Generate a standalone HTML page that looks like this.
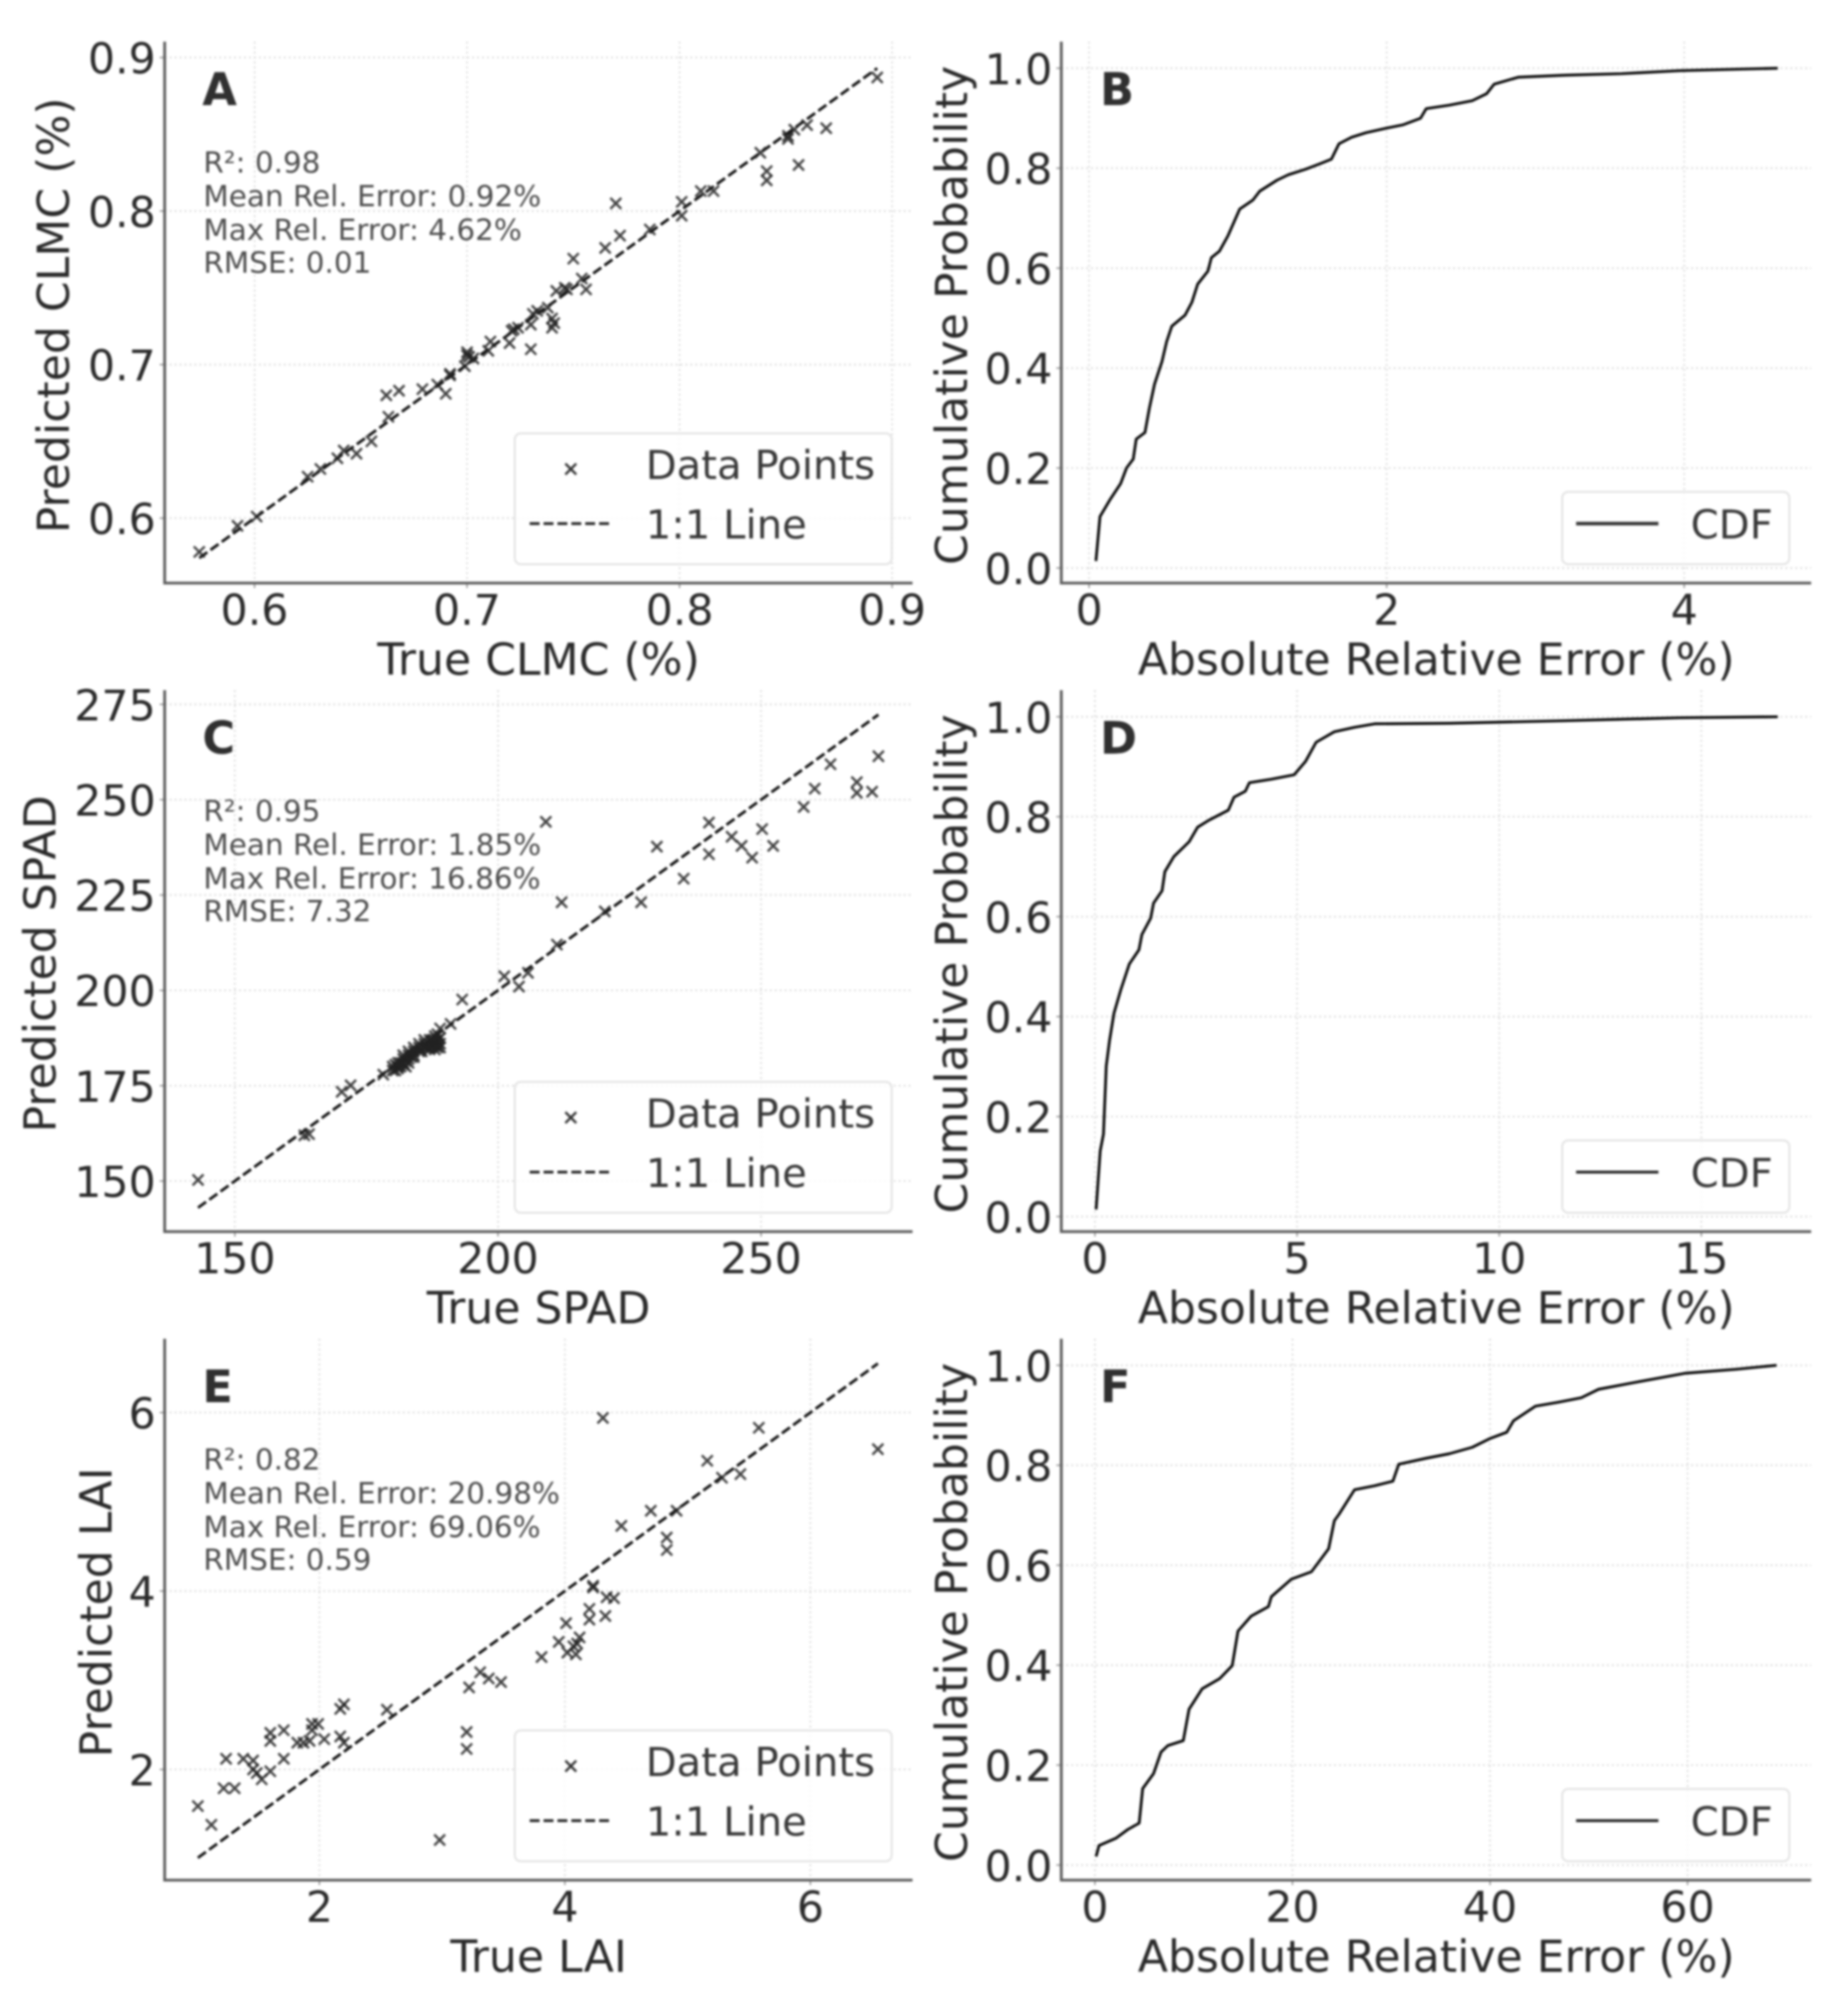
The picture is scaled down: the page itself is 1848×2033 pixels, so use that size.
<!DOCTYPE html>
<html>
<head>
<meta charset="utf-8">
<title>Predicted vs true scatter plots and error CDFs</title>
<style>
html,body{margin:0;padding:0;background:#fff;}
#chart{display:block;width:1848px;height:2033px;filter:blur(1px);font-family:"DejaVu Sans","Liberation Sans",sans-serif;}
.tick{font-size:43px;fill:#2a2a2a;}
.axt{font-size:44.5px;fill:#2a2a2a;}
.ann{font-size:29.7px;fill:#4e4e4e;}
.let{font-size:45px;font-weight:bold;fill:#303030;}
.leg{font-size:40.5px;fill:#383838;}
.box{fill:#fff;fill-opacity:.8;stroke:#e4e4e4;stroke-width:2;}
.sp{stroke:#5c5c5c;stroke-width:2.8;fill:none;}
</style>
</head>
<body>
<svg id="chart" xmlns="http://www.w3.org/2000/svg" width="1848" height="2033" viewBox="0 0 1848 2033">
<rect width="1848" height="2033" fill="#fff"/>

<g id="panel-a">
 <g id="a-axes"></g>
 <path class="sp" d="M166 42V588H920"/>
 <g id="a-marks"></g>
 <text class="let" x="204" y="106">A</text>
 <text class="ann" x="205" y="174">R²: 0.98</text>
 <text class="ann" x="205" y="208">Mean Rel. Error: 0.92%</text>
 <text class="ann" x="205" y="242">Max Rel. Error: 4.62%</text>
 <text class="ann" x="205" y="275">RMSE: 0.01</text>
 <text class="axt" x="543" y="680.500" text-anchor="middle">True CLMC (%)</text>
 <text class="axt" transform="translate(69.500,318) rotate(-90)" text-anchor="middle">Predicted CLMC (%)</text>
 <g>
  <rect class="box" x="519" y="437" width="380" height="132" rx="6"/>
  <path d="M570 467.500L581 478.500M570 478.500L581 467.500" stroke="#333" stroke-width="2.300"/>
  <text class="leg" x="651" y="483">Data Points</text>
  <line x1="534" y1="528" x2="618" y2="528" stroke="#222" stroke-width="2.800" stroke-dasharray="10 4"/>
  <text class="leg" x="651" y="543">1:1 Line</text>
 </g>
</g>

<g id="panel-b">
 <g id="b-axes"></g>
 <path class="sp" d="M1070 42V588H1826"/>
 <g id="b-marks"></g>
 <text class="let" x="1109" y="106">B</text>
 <text class="axt" x="1448" y="680.500" text-anchor="middle">Absolute Relative Error (%)</text>
 <text class="axt" transform="translate(975,318) rotate(-90)" text-anchor="middle">Cumulative Probability</text>
 <g>
  <rect class="box" x="1575" y="496" width="229" height="73" rx="6"/>
  <line x1="1589" y1="528" x2="1672" y2="528" stroke="#333" stroke-width="3.600"/>
  <text class="leg" x="1704.500" y="543">CDF</text>
 </g>
</g>

<g id="panel-c" transform="translate(0,654)">
 <g id="c-axes"></g>
 <path class="sp" d="M166 42V588H920"/>
 <g id="c-marks"></g>
 <text class="let" x="204" y="106">C</text>
 <text class="ann" x="205" y="174">R²: 0.95</text>
 <text class="ann" x="205" y="208">Mean Rel. Error: 1.85%</text>
 <text class="ann" x="205" y="242">Max Rel. Error: 16.86%</text>
 <text class="ann" x="205" y="275">RMSE: 7.32</text>
 <text class="axt" x="543" y="680.500" text-anchor="middle">True SPAD</text>
 <text class="axt" transform="translate(56,318) rotate(-90)" text-anchor="middle">Predicted SPAD</text>
 <g>
  <rect class="box" x="519" y="437" width="380" height="132" rx="6"/>
  <path d="M570 467.500L581 478.500M570 478.500L581 467.500" stroke="#333" stroke-width="2.300"/>
  <text class="leg" x="651" y="483">Data Points</text>
  <line x1="534" y1="528" x2="618" y2="528" stroke="#222" stroke-width="2.800" stroke-dasharray="10 4"/>
  <text class="leg" x="651" y="543">1:1 Line</text>
 </g>
</g>

<g id="panel-d" transform="translate(0,654)">
 <g id="d-axes"></g>
 <path class="sp" d="M1070 42V588H1826"/>
 <g id="d-marks"></g>
 <text class="let" x="1109" y="106">D</text>
 <text class="axt" x="1448" y="680.500" text-anchor="middle">Absolute Relative Error (%)</text>
 <text class="axt" transform="translate(975,318) rotate(-90)" text-anchor="middle">Cumulative Probability</text>
 <g>
  <rect class="box" x="1575" y="496" width="229" height="73" rx="6"/>
  <line x1="1589" y1="528" x2="1672" y2="528" stroke="#1a1a1a" stroke-width="2.800"/>
  <text class="leg" x="1704.500" y="543">CDF</text>
 </g>
</g>

<g id="panel-e" transform="translate(0,1308)">
 <g id="e-axes"></g>
 <path class="sp" d="M166 42V588H920"/>
 <g id="e-marks"></g>
 <text class="let" x="204" y="106">E</text>
 <text class="ann" x="205" y="174">R²: 0.82</text>
 <text class="ann" x="205" y="208">Mean Rel. Error: 20.98%</text>
 <text class="ann" x="205" y="242">Max Rel. Error: 69.06%</text>
 <text class="ann" x="205" y="275">RMSE: 0.59</text>
 <text class="axt" x="543" y="680.500" text-anchor="middle">True LAI</text>
 <text class="axt" transform="translate(112.500,318) rotate(-90)" text-anchor="middle">Predicted LAI</text>
 <g>
  <rect class="box" x="519" y="437" width="380" height="132" rx="6"/>
  <path d="M570 467.500L581 478.500M570 478.500L581 467.500" stroke="#333" stroke-width="2.300"/>
  <text class="leg" x="651" y="483">Data Points</text>
  <line x1="534" y1="528" x2="618" y2="528" stroke="#222" stroke-width="2.800" stroke-dasharray="10 4"/>
  <text class="leg" x="651" y="543">1:1 Line</text>
 </g>
</g>

<g id="panel-f" transform="translate(0,1308)">
 <g id="f-axes"></g>
 <path class="sp" d="M1070 42V588H1826"/>
 <g id="f-marks"></g>
 <text class="let" x="1109" y="106">F</text>
 <text class="axt" x="1448" y="680.500" text-anchor="middle">Absolute Relative Error (%)</text>
 <text class="axt" transform="translate(975,318) rotate(-90)" text-anchor="middle">Cumulative Probability</text>
 <g>
  <rect class="box" x="1575" y="496" width="229" height="73" rx="6"/>
  <line x1="1589" y1="528" x2="1672" y2="528" stroke="#1a1a1a" stroke-width="2.800"/>
  <text class="leg" x="1704.500" y="543">CDF</text>
 </g>
</g>
</svg>

<script>
// Panel A: CLMC
const clmcTrue = [.574,.592,.601,.625,.631,.639,.642,.648,.655,.662,.668,.663,.679,.686,.690,.692,.692,.699,.700,.700,.701,.703,.710,.711,.720,.721,.722,.724,.730,.731,.730,.733,.738,.740,.740,.741,.742,.746,.747,.750,.754,.756,.765,.770,.772,.786,.801,.801,.810,.816,.838,.841,.841,.851,.851,.854,.856,.860,.869,.893];
const clmcPred = [.578,.595,.601,.627,.632,.639,.644,.642,.650,.680,.683,.666,.684,.687,.681,.694,.693,.699,.708,.706,.705,.704,.709,.715,.714,.722,.723,.724,.726,.733,.710,.735,.737,.730,.724,.727,.748,.750,.749,.769,.756,.749,.776,.805,.784,.788,.797,.806,.813,.813,.838,.826,.820,.847,.849,.853,.830,.856,.854,.887];
const clmcXTicks = [0.6,0.7,0.8,0.9];
const clmcXLabels = ['0.6','0.7','0.8','0.9'];
const clmcYTicks = [0.6,0.7,0.8,0.9];
const clmcYLabels = ['0.6','0.7','0.8','0.9'];

// Panel B: CLMC error CDF
const clmcErr = [.046,.073,.143,.212,.251,.297,.317,.375,.405,.440,.490,.521,.556,.645,.691,.730,.799,.822,.876,.934,1.012,1.100,1.147,1.263,1.340,1.456,1.552,1.629,1.680,1.764,1.861,1.996,2.112,2.228,2.266,2.421,2.575,2.672,2.722,2.884,3.193,3.579,3.965,4.351,4.629];
const clmcProb = [.014,.103,.138,.169,.200,.218,.258,.271,.320,.368,.413,.453,.484,.506,.532,.568,.594,.621,.634,.665,.718,.736,.754,.776,.787,.798,.809,.818,.849,.862,.871,.880,.887,.900,.919,.926,.935,.949,.968,.982,.986,.989,.995,.998,1.0];
const clmcErrTicks = [0,2,4];
const clmcErrLabels = ['0','2','4'];

// Panel C: SPAD
const spadTrue = [143,163.2,164.1,170.3,172,178.2,180,180.5,181,181.5,182,182,182.5,183,183,183.5,184,184,185,185.5,186,186.5,187,187,187.5,188,188,188.5,189,189,189,188,187,191,193.2,201.2,204,205.7,211.2,212.1,209.1,220.3,227.2,230.2,235.3,240.1,240.1,244.4,246.3,248.3,250.2,252.3,258.1,260.2,263.2,268.2,268.2,271.1,272.3,180,181,182,183,184,185,186,187,188,188.5,188,187.5,186,185,184,183,182,181,189,188.5,180.5,181.5,182.5,187.5,188.5];
const spadPred = [150.3,162,162.3,173.4,175.1,177.9,179,180.5,179.5,181,180.5,182,181.5,183,181,182.5,184,182.5,185,184,186,185,187,186,185.5,188,186,187,185,187.5,190,184.5,184.5,191.2,197.6,203.7,201,204.6,212,223.1,244.2,220.7,223.1,237.7,229.3,244,235.7,240.3,237.9,234.8,242.3,237.9,248.1,252.9,259.3,254.6,251.8,252.1,261.4,180,181,181,182,183,184,185,185,185.5,186,187,187,187,186,185,184,183,180,186,188.5,179,180,180,186.5,185];
const spadXTicks = [150,200,250];
const spadXLabels = ['150','200','250'];
const spadYTicks = [150,175,200,225,250,275];
const spadYLabels = ['150','175','200','225','250','275'];

// Panel D: SPAD error CDF
const spadErr = [.03,.13,.21,.28,.36,.47,.64,.85,1.09,1.16,1.38,1.45,1.66,1.73,1.95,2.33,2.54,2.80,3.30,3.44,3.72,3.82,4.36,4.93,5.21,5.47,5.92,6.42,6.92,8.76,11.61,14.45,16.89];
const spadProb = [.014,.131,.165,.301,.352,.407,.454,.505,.534,.564,.597,.627,.652,.690,.720,.750,.779,.792,.813,.839,.851,.868,.875,.884,.911,.949,.970,.979,.986,.987,.992,.998,1.0];
const spadErrTicks = [0,5,10,15];
const spadErrLabels = ['0','5','10','15'];

// Panel E: LAI
const laiTrue = [1.01,1.12,1.22,1.31,1.24,1.38,1.46,1.46,1.49,1.53,1.60,1.60,1.60,1.71,1.71,1.82,1.87,1.92,1.94,1.94,1.99,2.04,2.17,2.20,2.17,2.20,2.55,2.98,3.20,3.20,3.22,3.31,3.38,3.48,3.81,3.95,4.01,4.02,4.07,4.09,4.10,4.12,4.20,4.20,4.23,4.23,4.33,4.34,4.40,4.31,4.46,4.70,4.83,4.83,4.91,5.16,5.28,5.43,5.58,6.55];
const laiPred = [1.59,1.38,1.79,1.79,2.12,2.12,2.10,2.00,1.96,1.89,1.98,2.41,2.32,2.44,2.12,2.30,2.30,2.32,2.51,2.44,2.51,2.34,2.37,2.30,2.68,2.73,2.67,1.21,2.42,2.23,2.92,3.09,3.02,2.98,3.26,3.43,3.64,3.31,3.38,3.29,3.41,3.48,3.80,3.68,4.06,4.04,3.72,3.93,3.92,5.94,4.73,4.90,4.60,4.46,4.90,5.46,5.27,5.31,5.83,5.59];
const laiXTicks = [2,4,6];
const laiXLabels = ['2','4','6'];
const laiYTicks = [2,4,6];
const laiYLabels = ['2','4','6'];

// Panel F: LAI error CDF
const laiErr = [.12,.41,2.15,3.31,4.48,4.83,5.93,6.69,7.38,8.95,9.53,10.87,12.62,13.90,14.48,15.81,17.56,17.85,19.88,21.92,23.66,24.24,24.71,26.28,28.31,30.17,30.76,33.55,35.87,38.20,39.94,41.69,42.38,44.59,46.92,49.24,50.99,54.48,59.71,64.94,69.01];
const laiProb = [.017,.039,.054,.071,.084,.153,.183,.226,.239,.249,.312,.353,.373,.399,.468,.498,.517,.537,.572,.587,.633,.689,.702,.751,.759,.768,.802,.814,.823,.836,.853,.866,.889,.918,.926,.935,.952,.965,.984,.992,1.0];
const laiErrTicks = [0,20,40,60];
const laiErrLabels = ['0','20','40','60'];

const cdfYTicks = [0,0.2,0.4,0.6,0.8,1.0];
const cdfYLabels = ['0.0','0.2','0.4','0.6','0.8','1.0'];

const NS = 'http://www.w3.org/2000/svg';
const TOP = 42, BOTTOM = 588, LEFT_A = 166, RIGHT_A = 920, LEFT_B = 1070, RIGHT_B = 1826;

function linear(v0, p0, v1, p1) {
  return function (v) { return p0 + (v - v0) * (p1 - p0) / (v1 - v0); };
}

function node(parent, tag, attrs) {
  const el = document.createElementNS(NS, tag);
  for (const k in attrs) el.setAttribute(k, attrs[k]);
  parent.appendChild(el);
  return el;
}

function drawAxes(id, xScale, yScale, xTicks, xLabels, yTicks, yLabels, left, right) {
  const g = document.getElementById(id + '-axes');
  xTicks.forEach(function (t, i) {
    const x = xScale(t);
    const grid = node(g, 'line', {x1: x, x2: x, y1: TOP, y2: BOTTOM, stroke: '#dedede', 'stroke-width': 1.8, 'stroke-dasharray': '2 3'});
    
    
    const tick = node(g, 'line', {x1: x, x2: x, y1: BOTTOM, y2: BOTTOM + 5, stroke: '#999', 'stroke-width': 1.5});
    
    
    const label = node(g, 'text', {x: x, y: 630, 'text-anchor': 'middle', 'class': 'tick'});
    
    
    label.textContent = xLabels[i];
  });
  yTicks.forEach(function (t, i) {
    const y = yScale(t);
    const grid = node(g, 'line', {x1: left, x2: right, y1: y, y2: y, stroke: '#dedede', 'stroke-width': 1.8, 'stroke-dasharray': '2 3'});
    
    
    const tick = node(g, 'line', {x1: left - 5, x2: left, y1: y, y2: y, stroke: '#999', 'stroke-width': 1.5});
    
    
    const label = node(g, 'text', {x: left - 9, y: y + 16, 'text-anchor': 'end', 'class': 'tick'});
    
    
    label.textContent = yLabels[i];
  });
}

function drawScatter(id, xScale, yScale, xs, ys) {
  const g = document.getElementById(id + '-marks');
  const lo = Math.min.apply(null, xs), hi = Math.max.apply(null, xs);
  const line = node(g, 'line', {x1: xScale(lo), y1: yScale(lo), x2: xScale(hi), y2: yScale(hi), stroke: '#111', 'stroke-width': 2.8, 'stroke-dasharray': '10 4'});
  
  
  xs.forEach(function (v, i) {
    const x = xScale(v), y = yScale(ys[i]), r = 5.5;
    const d = 'M' + (x - r) + ' ' + (y - r) + 'L' + (x + r) + ' ' + (y + r) + 'M' + (x - r) + ' ' + (y + r) + 'L' + (x + r) + ' ' + (y - r);
    const mark = node(g, 'path', {d: d, fill: 'none', stroke: '#222', 'stroke-width': 2.4, 'stroke-opacity': 0.85});
    
    
  });
}

function drawCdf(id, xScale, yScale, xs, ys) {
  const g = document.getElementById(id + '-marks');
  const pts = xs.map(function (v, i) { return xScale(v).toFixed(1) + ',' + yScale(ys[i]).toFixed(1); }).join(' ');
  const line = node(g, 'polyline', {points: pts, fill: 'none', stroke: '#000', 'stroke-width': 2.7, 'stroke-linejoin': 'round'});
  
  
}

const xA = linear(0.6, 256.6, 0.9, 899.4), yA = linear(0.6, 522.5, 0.9, 58);
drawAxes('a', xA, yA, clmcXTicks, clmcXLabels, clmcYTicks, clmcYLabels, LEFT_A, RIGHT_A);
drawScatter('a', xA, yA, clmcTrue, clmcPred);

const xC = linear(150, 236.8, 250, 767.3), yC = linear(150, 537, 275, 56.3);
drawAxes('c', xC, yC, spadXTicks, spadXLabels, spadYTicks, spadYLabels, LEFT_A, RIGHT_A);
drawScatter('c', xC, yC, spadTrue, spadPred);

const xE = linear(2, 322, 6, 817), yE = linear(2, 476.4, 6, 116.5);
drawAxes('e', xE, yE, laiXTicks, laiXLabels, laiYTicks, laiYLabels, LEFT_A, RIGHT_A);
drawScatter('e', xE, yE, laiTrue, laiPred);

const yCdf = linear(0, 572.8, 1, 68.8);
const xB = linear(0, 1098, 4, 1698);
drawAxes('b', xB, yCdf, clmcErrTicks, clmcErrLabels, cdfYTicks, cdfYLabels, LEFT_B, RIGHT_B);
drawCdf('b', xB, yCdf, clmcErr, clmcProb);

const xD = linear(0, 1103.9, 15, 1715.3);
drawAxes('d', xD, yCdf, spadErrTicks, spadErrLabels, cdfYTicks, cdfYLabels, LEFT_B, RIGHT_B);
drawCdf('d', xD, yCdf, spadErr, spadProb);

const xF = linear(0, 1103.9, 60, 1701.4);
drawAxes('f', xF, yCdf, laiErrTicks, laiErrLabels, cdfYTicks, cdfYLabels, LEFT_B, RIGHT_B);
drawCdf('f', xF, yCdf, laiErr, laiProb);
</script>
</body>
</html>
